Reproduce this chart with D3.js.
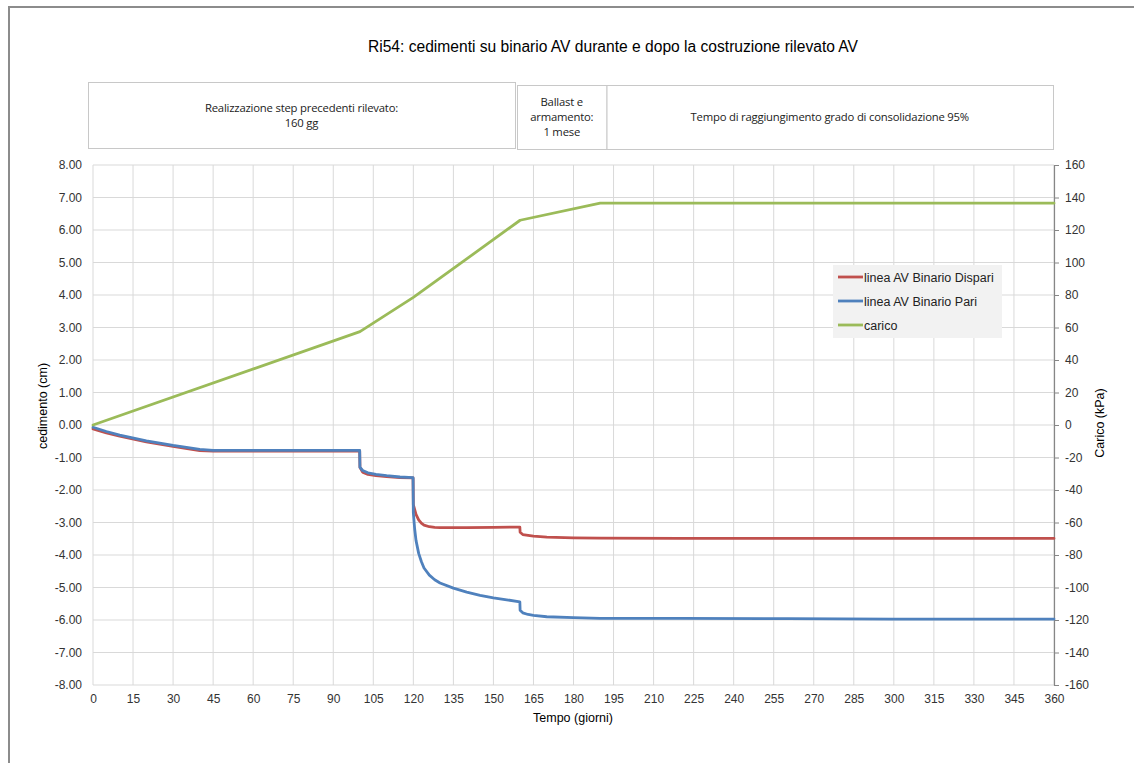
<!DOCTYPE html>
<html><head><meta charset="utf-8">
<script src="https://cdn.jsdelivr.net/npm/d3@7"></script>
<style>
body{margin:0;background:#fff;}
svg{display:block;}
</style></head>
<body>
<svg id="chart" width="1134" height="763"></svg>
<script>
const title = "Ri54: cedimenti su binario AV durante e dopo la costruzione rilevato AV";
const seriesNames = ["linea AV Binario Dispari", "linea AV Binario Pari", "carico"];
const colors = ["#c0504d", "#4f81bd", "#9bbb59"];
const xTicks = d3.range(0, 361, 15);
const yLeftTicks = d3.range(-8, 8.01, 1);
const yRightTicks = d3.range(-160, 161, 20);

// giorni, cedimento (cm)
const dispariDays = [0, 5, 10, 20, 30, 40, 45, 60, 80, 99.9, 100, 101, 103, 106, 110, 115, 119.9, 120, 121, 122, 123, 124, 126, 128, 130, 140, 150, 159.9, 160, 161, 165, 170, 180, 190, 220, 260, 300, 360];
const dispariVals = [-0.12, -0.24, -0.34, -0.52, -0.66, -0.79, -0.8, -0.8, -0.8, -0.8, -1.3, -1.45, -1.52, -1.56, -1.59, -1.62, -1.63, -2.45, -2.75, -2.92, -3.02, -3.08, -3.13, -3.15, -3.16, -3.16, -3.15, -3.14, -3.3, -3.37, -3.42, -3.45, -3.47, -3.48, -3.49, -3.49, -3.49, -3.49];

const pariDays = [0, 5, 10, 20, 30, 40, 45, 60, 80, 99.9, 100, 101, 103, 106, 110, 115, 119.9, 120, 120.5, 121, 122, 123, 124, 126, 128, 130, 135, 140, 145, 150, 155, 159.9, 160, 161, 163, 165, 170, 180, 190, 220, 260, 300, 360];
const pariVals = [-0.07, -0.2, -0.31, -0.49, -0.63, -0.75, -0.78, -0.78, -0.78, -0.78, -1.3, -1.4, -1.47, -1.52, -1.56, -1.6, -1.62, -2.7, -3.2, -3.55, -3.95, -4.2, -4.4, -4.62, -4.76, -4.86, -5.02, -5.14, -5.24, -5.32, -5.38, -5.44, -5.7, -5.78, -5.83, -5.86, -5.9, -5.93, -5.95, -5.95, -5.96, -5.97, -5.97];

// giorni, carico (kPa)
const caricoDays = [0, 100, 120, 160, 190, 360];
const caricoVals = [0, 57.5, 78.5, 126, 136.5, 136.5];

const boxTexts = [
  ["Realizzazione step precedenti rilevato:", "160 gg"],
  ["Ballast e", "armamento:", "1 mese"],
  ["Tempo di raggiungimento grado di consolidazione 95%"]
];

const svg = d3.select("#chart");
const m = {l: 93, r: 1054, t: 165, b: 685};
const x = d3.scaleLinear().domain([0, 360]).range([m.l, m.r]);
const yL = d3.scaleLinear().domain([-8, 8]).range([m.b, m.t]);
const yR = d3.scaleLinear().domain([-160, 160]).range([m.b, m.t]);
const hy = s => s.replace("\u2212", "-");

// outer frame
svg.append("path").attr("d", `M9,770 V7 H1140`).attr("fill", "none").attr("stroke", "#8c8c8c").attr("stroke-width", 2);

// title
svg.append("text").attr("x", 613).attr("y", 52).attr("text-anchor", "middle")
  .attr("font-family", "Liberation Sans, Arial, sans-serif").attr("font-size", 15.6).attr("fill", "#000").text(title);

// boxes
const boxes = [
  {x0: 88, x1: 515, y0: 82, y1: 148},
  {x0: 517, x1: 606.5, y0: 85, y1: 149},
  {x0: 606.5, x1: 1053, y0: 85, y1: 149}
];
boxes.forEach((b, i) => {
  svg.append("rect").attr("x", b.x0 + 0.5).attr("y", b.y0 + 0.5).attr("width", b.x1 - b.x0).attr("height", b.y1 - b.y0)
    .attr("fill", "#fff").attr("stroke", "#c8c8c8").attr("stroke-width", 1);
  const lines = boxTexts[i];
  const lh = 15;
  const cy = (b.y0 + b.y1) / 2;
  lines.forEach((t, j) => {
    svg.append("text").attr("x", (b.x0 + b.x1) / 2).attr("y", cy + (j - (lines.length - 1) / 2) * lh + 4)
      .attr("text-anchor", "middle").attr("font-family", "Open Sans, Liberation Sans, sans-serif")
      .attr("font-size", 11.3).attr("letter-spacing", -0.2).attr("fill", "#222").text(t);
  });
});

// grid
const g = svg.append("g");
g.selectAll("line.v").data(xTicks).join("line")
  .attr("x1", d => x(d)).attr("x2", d => x(d)).attr("y1", m.t).attr("y2", m.b)
  .attr("stroke", "#d9d9d9").attr("stroke-width", 1);
g.selectAll("line.h").data(yLeftTicks).join("line").attr("class", "h")
  .attr("x1", m.l).attr("x2", m.r).attr("y1", d => yL(d)).attr("y2", d => yL(d))
  .attr("stroke", "#d9d9d9").attr("stroke-width", 1);

const tickFont = "Liberation Sans, Arial, sans-serif";
// left axis
const fL = d3.format(".2f");
const axL = d3.axisLeft(yL).tickValues(yLeftTicks).tickFormat(d => hy(fL(d))).tickSize(0).tickPadding(11);
const gL = svg.append("g").attr("transform", `translate(${m.l},0)`).call(axL);
gL.select(".domain").remove();
gL.selectAll("text").attr("font-family", tickFont).attr("font-size", 12).attr("fill", "#333");

// bottom axis
const axB = d3.axisBottom(x).tickValues(xTicks).tickSize(0).tickPadding(9);
const gB = svg.append("g").attr("transform", `translate(0,${m.b})`).call(axB);
gB.select(".domain").remove();
gB.selectAll("text").attr("font-family", tickFont).attr("font-size", 12).attr("fill", "#333");

// right axis
const fR = d3.format("d");
const axR = d3.axisRight(yR).tickValues(yRightTicks).tickFormat(d => hy(fR(d))).tickSize(5).tickPadding(6);
const gR = svg.append("g").attr("transform", `translate(${m.r},0)`).call(axR);
gR.select(".domain").attr("stroke", "#868686").attr("stroke-width", 1.2);
gR.selectAll(".tick line").attr("stroke", "#868686");
gR.selectAll("text").attr("font-family", tickFont).attr("font-size", 12).attr("fill", "#333");

// axis titles
svg.append("text").attr("transform", "translate(47,406) rotate(-90)").attr("text-anchor", "middle")
  .attr("font-family", tickFont).attr("font-size", 12.5).attr("fill", "#000").text("cedimento (cm)");
svg.append("text").attr("transform", "translate(1104,423) rotate(-90)").attr("text-anchor", "middle")
  .attr("font-family", tickFont).attr("font-size", 12.5).attr("fill", "#000").text("Carico (kPa)");
svg.append("text").attr("x", 573).attr("y", 722).attr("text-anchor", "middle")
  .attr("font-family", tickFont).attr("font-size", 12.5).attr("fill", "#000").text("Tempo (giorni)");

// lines
const lineL = d3.line().x(d => x(d[0])).y(d => yL(d[1]));
const lineR = d3.line().x(d => x(d[0])).y(d => yR(d[1]));
const dataSets = [
  {d: d3.zip(dispariDays, dispariVals), gen: lineL, c: colors[0]},
  {d: d3.zip(pariDays, pariVals), gen: lineL, c: colors[1]},
  {d: d3.zip(caricoDays, caricoVals), gen: lineR, c: colors[2]}
];
dataSets.forEach(s => {
  svg.append("path").attr("d", s.gen(s.d)).attr("fill", "none").attr("stroke", s.c)
    .attr("stroke-width", 2.8).attr("stroke-linejoin", "round").attr("stroke-linecap", "round");
});

// legend
const lg = svg.append("g");
lg.append("rect").attr("x", 833).attr("y", 265).attr("width", 169).attr("height", 73).attr("fill", "#f2f2f2");
seriesNames.forEach((n, i) => {
  const yy = 277 + i * 24;
  lg.append("line").attr("x1", 838).attr("x2", 863).attr("y1", yy).attr("y2", yy).attr("stroke", colors[i]).attr("stroke-width", 2.8);
  lg.append("text").attr("x", 864).attr("y", yy + 4.5).attr("font-family", tickFont).attr("font-size", 12.5).attr("fill", "#222").text(n);
});
</script>
</body></html>
